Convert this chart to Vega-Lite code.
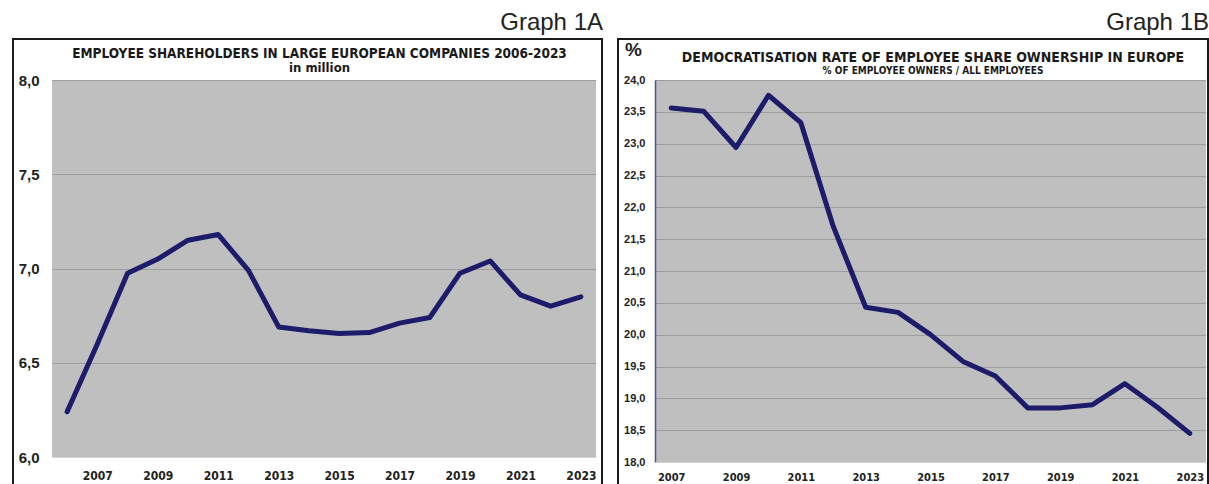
{
  "$schema": "https://vega.github.io/schema/vega-lite/v6.json",
  "padding": {"left": 12, "top": 11, "right": 0, "bottom": 0},
  "background": "white",
  "spacing": 14,
  "config": {
    "locale": {"number": {"decimal": ",", "thousands": ".", "grouping": [3], "currency": ["", " €"]}},
    "view": {"stroke": "#1a1a1a", "strokeWidth": 2, "fill": "white"},
    "font": "Liberation Sans",
    "concat": {"spacing": 0}
  },
  "datasets": {
    "holders": [
      {"year": 2006, "value": 6.24},
      {"year": 2007, "value": 6.6},
      {"year": 2008, "value": 6.975},
      {"year": 2009, "value": 7.05},
      {"year": 2010, "value": 7.15},
      {"year": 2011, "value": 7.18},
      {"year": 2012, "value": 6.99},
      {"year": 2013, "value": 6.69},
      {"year": 2014, "value": 6.67},
      {"year": 2015, "value": 6.655},
      {"year": 2016, "value": 6.66},
      {"year": 2017, "value": 6.71},
      {"year": 2018, "value": 6.74},
      {"year": 2019, "value": 6.975},
      {"year": 2020, "value": 7.04},
      {"year": 2021, "value": 6.86},
      {"year": 2022, "value": 6.8},
      {"year": 2023, "value": 6.85}
    ],
    "rate": [
      {"year": 2007, "value": 23.56},
      {"year": 2008, "value": 23.51},
      {"year": 2009, "value": 22.94},
      {"year": 2010, "value": 23.76},
      {"year": 2011, "value": 23.33},
      {"year": 2012, "value": 21.7},
      {"year": 2013, "value": 20.43},
      {"year": 2014, "value": 20.35},
      {"year": 2015, "value": 20.0},
      {"year": 2016, "value": 19.58},
      {"year": 2017, "value": 19.35},
      {"year": 2018, "value": 18.85},
      {"year": 2019, "value": 18.85},
      {"year": 2020, "value": 18.9},
      {"year": 2021, "value": 19.23},
      {"year": 2022, "value": 18.86},
      {"year": 2023, "value": 18.45}
    ]
  },
  "hconcat": [
    {
      "title": {"text": "Graph 1A", "anchor": "end", "fontSize": 24, "fontWeight": "normal", "font": "Liberation Sans", "color": "#222222", "offset": 3},
      "vconcat": [
        {
          "width": 589,
          "height": 450,
          "title": {
            "text": "EMPLOYEE  SHAREHOLDERS IN LARGE EUROPEAN COMPANIES  2006-2023",
            "subtitle": "in million",
            "anchor": "middle",
            "offset": -36,
            "dx": 12,
            "font": "Liberation Sans Narrow, DejaVu Sans Condensed, sans-serif",
            "fontSize": 13.5,
            "fontWeight": "bold",
            "color": "#1a1a1a",
            "subtitleFont": "Liberation Sans Narrow, DejaVu Sans Condensed, sans-serif",
            "subtitleFontSize": 13,
            "subtitleFontWeight": "bold",
            "subtitleColor": "#1a1a1a",
            "subtitlePadding": 2
          },
          "layer": [
            {
              "data": {"values": [{}]},
              "mark": {"type": "rect", "fill": "#000000", "fillOpacity": 0.25, "strokeWidth": 0},
              "encoding": {
                "x": {
                  "datum": 2005.5, "type": "quantitative",
                  "scale": {"domain": [2005.5, 2023.5], "range": [39, 583], "nice": false, "zero": false},
                  "axis": {"values": [2007, 2009, 2011, 2013, 2015, 2017, 2019, 2021, 2023], "format": "d", "orient": "bottom", "offset": -32, "domain": false, "ticks": false, "grid": false, "labelFont": "Liberation Sans Narrow, DejaVu Sans Condensed, sans-serif", "labelFontWeight": "bold", "labelFontSize": 12, "labelPadding": 13, "labelColor": "#222222", "labelOverlap": false, "title": null}
                },
                "x2": {"datum": 2023.5},
                "y": {
                  "datum": 6, "type": "quantitative",
                  "scale": {"domain": [6, 8], "range": [418, 41], "nice": false, "zero": false},
                  "axis": {"values": [6, 6.5, 7, 7.5, 8], "format": ".1f", "offset": -39, "domain": false, "ticks": false, "grid": true, "gridColor": "#d2d2d2", "gridWidth": 1.2, "labelFontSize": 15, "labelFontWeight": "bold", "labelPadding": 13, "labelColor": "#222222", "labelOverlap": false, "title": null}
                },
                "y2": {"datum": 8}
              }
            },
            {
              "data": {"name": "holders"},
              "mark": {"type": "line", "color": "#1c1c6b", "strokeWidth": 5, "strokeCap": "round", "strokeJoin": "round"},
              "encoding": {
                "x": {
                  "field": "year", "type": "quantitative",
                  "scale": {"domain": [2005.5, 2023.5], "range": [39, 583], "nice": false, "zero": false},
                  "axis": {"values": [2007, 2009, 2011, 2013, 2015, 2017, 2019, 2021, 2023], "format": "d", "orient": "bottom", "offset": -32, "domain": false, "ticks": false, "grid": false, "labelFont": "Liberation Sans Narrow, DejaVu Sans Condensed, sans-serif", "labelFontWeight": "bold", "labelFontSize": 12, "labelPadding": 13, "labelColor": "#222222", "labelOverlap": false, "title": null}
                },
                "y": {
                  "field": "value", "type": "quantitative",
                  "scale": {"domain": [6, 8], "range": [418, 41], "nice": false, "zero": false},
                  "axis": {"values": [6, 6.5, 7, 7.5, 8], "format": ".1f", "offset": -39, "domain": false, "ticks": false, "grid": true, "gridColor": "#d2d2d2", "gridWidth": 1.2, "labelFontSize": 15, "labelFontWeight": "bold", "labelPadding": 13, "labelColor": "#222222", "labelOverlap": false, "title": null}
                }
              }
            }
          ]
        }
      ]
    },
    {
      "title": {"text": "Graph 1B", "anchor": "end", "fontSize": 24, "fontWeight": "normal", "font": "Liberation Sans", "color": "#222222", "offset": 3},
      "vconcat": [
        {
          "width": 590,
          "height": 450,
          "title": {
            "text": "DEMOCRATISATION  RATE OF EMPLOYEE SHARE OWNERSHIP IN EUROPE",
            "subtitle": "% OF EMPLOYEE OWNERS /  ALL EMPLOYEES",
            "anchor": "middle",
            "offset": -37,
            "dx": 20,
            "font": "Liberation Sans Narrow, DejaVu Sans Condensed, sans-serif",
            "fontSize": 14,
            "fontWeight": "bold",
            "color": "#1a1a1a",
            "subtitleFont": "Liberation Sans Narrow, DejaVu Sans Condensed, sans-serif",
            "subtitleFontSize": 10,
            "subtitleFontWeight": "bold",
            "subtitleColor": "#1a1a1a",
            "subtitlePadding": 1
          },
          "layer": [
            {
              "data": {"values": [{}]},
              "mark": {"type": "rect", "fill": "#000000", "fillOpacity": 0.25, "strokeWidth": 0},
              "encoding": {
                "x": {
                  "datum": 2006.5, "type": "quantitative",
                  "scale": {"domain": [2006.5, 2023.5], "range": [37, 588], "nice": false, "zero": false},
                  "axis": {"values": [2007, 2009, 2011, 2013, 2015, 2017, 2019, 2021, 2023], "format": "d", "orient": "bottom", "offset": -27, "domain": false, "ticks": false, "grid": false, "labelFont": "Liberation Sans Narrow, DejaVu Sans Condensed, sans-serif", "labelFontWeight": "bold", "labelFontSize": 11, "labelPadding": 9, "labelColor": "#222222", "labelOverlap": false, "title": null}
                },
                "x2": {"datum": 2023.5},
                "y": {
                  "datum": 18, "type": "quantitative",
                  "scale": {"domain": [18, 24], "range": [423, 41], "nice": false, "zero": false},
                  "axis": {"values": [18, 18.5, 19, 19.5, 20, 20.5, 21, 21.5, 22, 22.5, 23, 23.5, 24], "format": ".1f", "offset": -37, "domain": true, "domainColor": "#6a6ab8", "domainWidth": 1.5, "ticks": false, "grid": true, "gridColor": "#d2d2d2", "gridWidth": 1.2, "labelFontSize": 11, "labelFontWeight": "bold", "labelPadding": 10, "labelColor": "#222222", "labelOverlap": false, "title": "%", "titleAngle": 0, "titleFontSize": 19, "titleFontWeight": "bold", "titleColor": "#222222", "titleX": -22, "titleY": 10, "titleAlign": "center", "titleBaseline": "middle"}
                },
                "y2": {"datum": 24}
              }
            },
            {
              "data": {"name": "rate"},
              "mark": {"type": "line", "color": "#1c1c6b", "strokeWidth": 5, "strokeCap": "round", "strokeJoin": "round"},
              "encoding": {
                "x": {
                  "field": "year", "type": "quantitative",
                  "scale": {"domain": [2006.5, 2023.5], "range": [37, 588], "nice": false, "zero": false},
                  "axis": {"values": [2007, 2009, 2011, 2013, 2015, 2017, 2019, 2021, 2023], "format": "d", "orient": "bottom", "offset": -27, "domain": false, "ticks": false, "grid": false, "labelFont": "Liberation Sans Narrow, DejaVu Sans Condensed, sans-serif", "labelFontWeight": "bold", "labelFontSize": 11, "labelPadding": 9, "labelColor": "#222222", "labelOverlap": false, "title": null}
                },
                "y": {
                  "field": "value", "type": "quantitative",
                  "scale": {"domain": [18, 24], "range": [423, 41], "nice": false, "zero": false},
                  "axis": {"values": [18, 18.5, 19, 19.5, 20, 20.5, 21, 21.5, 22, 22.5, 23, 23.5, 24], "format": ".1f", "offset": -37, "domain": true, "domainColor": "#6a6ab8", "domainWidth": 1.5, "ticks": false, "grid": true, "gridColor": "#d2d2d2", "gridWidth": 1.2, "labelFontSize": 11, "labelFontWeight": "bold", "labelPadding": 10, "labelColor": "#222222", "labelOverlap": false, "title": "%", "titleAngle": 0, "titleFontSize": 19, "titleFontWeight": "bold", "titleColor": "#222222", "titleX": -22, "titleY": 10, "titleAlign": "center", "titleBaseline": "middle"}
                }
              }
            }
          ]
        }
      ]
    }
  ]
}
